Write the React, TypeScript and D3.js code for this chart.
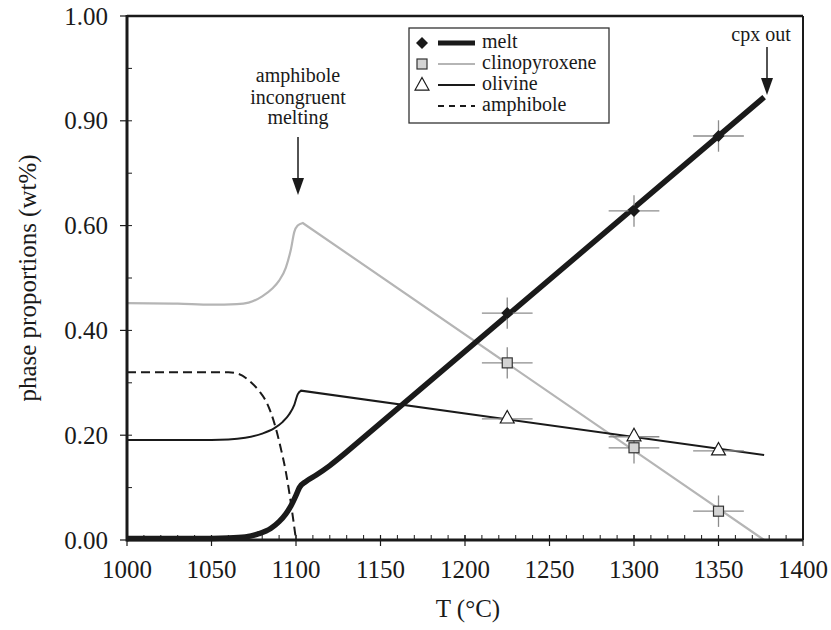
import React from "react";
import * as d3 from "d3";

const W = 831;
const H = 630;
const M = { left: 127, right: 803, top: 16, bottom: 540 };

// curves (last point: end of the straight segment)
const meltT = [1000, 1040, 1060, 1070, 1078, 1085, 1090, 1094, 1097, 1100, 1102, 1106, 1112, 1120, 1130, 1377];
const meltV = [0.003, 0.003, 0.004, 0.006, 0.012, 0.022, 0.035, 0.05, 0.065, 0.085, 0.1, 0.112, 0.124, 0.142, 0.168, 0.845];

const cpxT = [1000, 1030, 1050, 1065, 1072, 1080, 1086, 1090, 1094, 1097, 1099, 1101, 1104, 1377];
const cpxV = [0.452, 0.451, 0.449, 0.45, 0.453, 0.465, 0.48, 0.495, 0.52, 0.555, 0.588, 0.6, 0.605, 0];

const olT = [1000, 1040, 1060, 1070, 1080, 1087, 1092, 1096, 1099, 1101, 1103, 1377];
const olV = [0.191, 0.191, 0.192, 0.195, 0.203, 0.213, 0.225, 0.24, 0.258, 0.278, 0.285, 0.162];

const amphT = [1000, 1040, 1060, 1066, 1072, 1078, 1083, 1087, 1091, 1094, 1097, 1100];
const amphV = [0.32, 0.32, 0.32, 0.317, 0.305, 0.285, 0.26, 0.225, 0.175, 0.13, 0.07, 0];

// experimental points
const expT = [1225, 1300, 1350];
const meltPts = [0.433, 0.628, 0.771];
const cpxPts = [0.338, 0.176, 0.055];
const olPts = [0.231, 0.197, 0.17];
const errT = 15;
const errMelt = 0.03;
const errCpx = 0.03;

// axes
const xTicks = [1000, 1050, 1100, 1150, 1200, 1250, 1300, 1350, 1400];
const yTickVals = [0, 0.2, 0.4, 0.6, 0.8, 1.0];
const yTickLabels = ["0.00", "0.20", "0.40", "0.60", "0.90", "1.00"];

const legendNames = ["melt", "clinopyroxene", "olivine", "amphibole"];

const FONT = "Liberation Serif, Times New Roman, Times, DejaVu Serif, serif";

export default function App() {
  const x = d3.scaleLinear().domain([1000, 1400]).range([M.left, M.right]);
  const y = d3.scaleLinear().domain([0, 1]).range([M.bottom, M.top]);

  // smooth part with monotone curve, final straight segment with linear
  const mk = (T: number[], V: number[], straightTail: boolean) => {
    const pts: [number, number][] = T.map((t, i) => [x(t), y(V[i])]);
    const curvePts = straightTail ? pts.slice(0, -1) : pts;
    const smooth = d3.line().curve(d3.curveMonotoneX)(curvePts) as string;
    if (!straightTail) return smooth;
    const tail = d3.line().curve(d3.curveLinear)(pts.slice(-2)) as string;
    return smooth + tail.replace(/^M[^L]*/, "");
  };

  const minorX = d3.range(1000, 1401, 10);
  const minorY = d3.range(0, 1.0001, 0.1);

  const diamond = (cx: number, cy: number, r: number) =>
    `M${cx},${cy - r}L${cx + r},${cy}L${cx},${cy + r}L${cx - r},${cy}Z`;
  const tri = (cx: number, cy: number, s: number) =>
    `M${cx},${cy - s * 0.62}L${cx + s * 0.58},${cy + s * 0.42}L${cx - s * 0.58},${cy + s * 0.42}Z`;

  const ebar = "#8c8c8c";
  const ink = "#1a1a1a";

  return (
    <svg width={W} height={H} style={{ display: "block", position: "absolute", left: 0, top: 0, background: "#fff", fontFamily: FONT }}>
      <rect x={0} y={0} width={W} height={H} fill="#fff" />
      {/* frame top/right */}
      <line x1={M.left} x2={M.right} y1={M.top} y2={M.top} stroke={ink} strokeWidth={2.5} />
      <line x1={M.right} x2={M.right} y1={M.top} y2={M.bottom} stroke={ink} strokeWidth={2} />
      {/* ticks */}
      {minorX.map((t) => (
        <line key={"mx" + t} x1={x(t)} x2={x(t)} y1={M.bottom} y2={M.bottom - 5} stroke={ink} strokeWidth={1} />
      ))}
      {xTicks.map((t) => (
        <line key={"Mx" + t} x1={x(t)} x2={x(t)} y1={M.bottom - 5} y2={M.bottom + 6} stroke={ink} strokeWidth={1.2} />
      ))}
      {minorY.map((v, i) => (
        <line key={"my" + i} x1={M.left} x2={M.left + 5} y1={y(v)} y2={y(v)} stroke={ink} strokeWidth={1} />
      ))}
      {yTickVals.map((v) => (
        <line key={"My" + v} x1={M.left - 7} x2={M.left} y1={y(v)} y2={y(v)} stroke={ink} strokeWidth={1.2} />
      ))}

      {/* curves */}
      <path d={mk(cpxT, cpxV, true)} fill="none" stroke="#b5b5b5" strokeWidth={2.2} />
      <path d={mk(olT, olV, true)} fill="none" stroke={ink} strokeWidth={2} />
      <path d={mk(amphT, amphV, false)} fill="none" stroke={ink} strokeWidth={2} strokeDasharray="9,5" />
      <path d={mk(meltT, meltV, true)} fill="none" stroke={ink} strokeWidth={5.5} />

      {/* left/bottom axis lines */}
      <line x1={M.left} x2={M.left} y1={M.top - 1} y2={M.bottom + 1.5} stroke={ink} strokeWidth={3} />
      <line x1={M.left} x2={M.right} y1={M.bottom} y2={M.bottom} stroke={ink} strokeWidth={3} />

      {/* error bars */}
      {expT.map((t, i) => (
        <g key={"e" + i} stroke={ebar} strokeWidth={1.3}>
          <line x1={x(t - errT)} x2={x(t + errT)} y1={y(meltPts[i])} y2={y(meltPts[i])} />
          <line x1={x(t)} x2={x(t)} y1={y(meltPts[i] - errMelt)} y2={y(meltPts[i] + errMelt)} />
          <line x1={x(t - errT)} x2={x(t + errT)} y1={y(cpxPts[i])} y2={y(cpxPts[i])} />
          <line x1={x(t)} x2={x(t)} y1={y(cpxPts[i] - errCpx)} y2={y(cpxPts[i] + errCpx)} />
          <line x1={x(t - errT)} x2={x(t + errT)} y1={y(olPts[i])} y2={y(olPts[i])} />
        </g>
      ))}
      {/* markers */}
      {expT.map((t, i) => (
        <g key={"m" + i}>
          <path d={diamond(x(t), y(meltPts[i]), 6)} fill={ink} />
          <rect x={x(t) - 5} y={y(cpxPts[i]) - 5} width={10} height={10} fill="#d4d4d4" stroke="#333" strokeWidth={1.2} />
          <path d={tri(x(t), y(olPts[i]) - 1, 12)} fill="#fff" stroke={ink} strokeWidth={1.2} />
        </g>
      ))}

      {/* tick labels */}
      <g style={{ fontFamily: FONT, fontSize: 25 }} fill={ink}>
        {xTicks.map((t) => (
          <text key={"xl" + t} x={x(t)} y={578} textAnchor="middle">
            {t}
          </text>
        ))}
        {yTickVals.map((v, i) => (
          <text key={"yl" + i} x={108} y={y(v) + 8.5} textAnchor="end">
            {yTickLabels[i]}
          </text>
        ))}
        <text x={468} y={617} textAnchor="middle">
          T (°C)
        </text>
        <text transform={`translate(36,${(M.top + M.bottom) / 2}) rotate(-90)`} textAnchor="middle">
          phase proportions (wt%)
        </text>
      </g>

      {/* legend */}
      <rect x={409} y={28} width={200} height={95} fill="#fff" stroke="#333" strokeWidth={1.3} />
      <g style={{ fontFamily: FONT, fontSize: 20 }} fill={ink}>
        {legendNames.map((n, i) => {
          const ly = 43 + i * 21;
          return (
            <g key={n}>
              {i === 0 && <path d={diamond(422, ly, 6)} fill={ink} />}
              {i === 1 && <rect x={417} y={ly - 5} width={10} height={10} fill="#d4d4d4" stroke="#333" strokeWidth={1.2} />}
              {i === 2 && <path d={tri(422, ly, 12)} fill="#fff" stroke={ink} strokeWidth={1.2} />}
              <line
                x1={438}
                x2={475}
                y1={ly}
                y2={ly}
                stroke={i === 1 ? "#b5b5b5" : ink}
                strokeWidth={i === 0 ? 5 : 2}
                strokeDasharray={i === 3 ? "6,5" : undefined}
              />
              <text x={482} y={ly + 5}>
                {n}
              </text>
            </g>
          );
        })}
      </g>

      {/* annotations */}
      <g style={{ fontFamily: FONT, fontSize: 20 }} fill={ink} textAnchor="middle">
        <text x={298} y={82}>amphibole</text>
        <text x={298} y={104}>incongruent</text>
        <text x={298} y={124}>melting</text>
        <text x={761} y={41}>cpx out</text>
      </g>
      <line x1={298} x2={298} y1={137} y2={182} stroke={ink} strokeWidth={1.5} />
      <path d="M292,178L304,178L298,195Z" fill={ink} />
      <line x1={767} x2={767} y1={47} y2={82} stroke={ink} strokeWidth={1.5} />
      <path d="M761,78L773,78L767,95Z" fill={ink} />
    </svg>
  );
}
